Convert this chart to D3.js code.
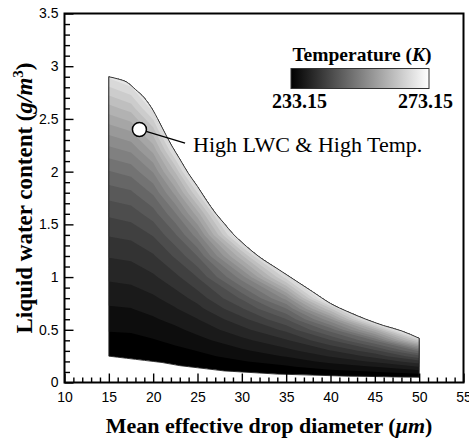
<!DOCTYPE html>
<html>
<head>
<meta charset="utf-8">
<script src="https://cdn.jsdelivr.net/npm/d3@7"></script>
<style>
  body { margin: 0; background: #fff; }
  svg { display: block; }
</style>
</head>
<body>
<svg id="chart" width="469" height="439"></svg>
<script>
const medCols = [15, 17.5, 20, 22.5, 25, 30, 35, 40, 45, 50];
const lwcRows = [0, 0.05, 0.1, 0.15, 0.2, 0.25, 0.3, 0.4, 0.5, 0.6, 0.7, 0.8,
                 1.0, 1.2, 1.4, 1.6, 1.8, 2.0, 2.2, 2.4, 2.6, 2.8, 3.0];

// temperature (K) down each MED column, one value per lwcRows entry
const temp15   = [233, 233, 233, 233, 233, 233.2, 233.6, 234.5, 235.3, 236.1, 236.9, 237.8, 239.5, 241.3, 243.3, 245.5, 248.1, 251.0, 254.4, 258.1, 262.3, 267.0, 272.0];
const temp17_5 = [233, 233, 233, 233, 233, 233.3, 233.7, 234.6, 235.4, 236.3, 237.1, 238.0, 239.8, 241.6, 243.7, 246.1, 248.8, 251.9, 255.5, 259.5, 264.0, 269.0, 274.0];
const temp20   = [233, 233, 233, 233, 233.2, 233.7, 234.1, 235.0, 236.0, 236.9, 237.8, 238.8, 240.8, 242.9, 245.3, 248.2, 251.5, 255.3, 259.7, 264.6, 270.0, 275.5, 279.0];
const temp22_5 = [233, 233, 233, 233, 233.5, 234.0, 234.6, 235.7, 236.7, 237.8, 239.0, 240.1, 242.6, 245.5, 248.9, 252.9, 257.8, 263.4, 269.8, 276.0, 280, 280, 280];
const temp25   = [233, 233, 233, 233.3, 234.0, 234.6, 235.2, 236.5, 237.8, 239.1, 240.5, 241.9, 245.2, 249.2, 254.2, 260.2, 267.2, 274.8, 280, 280, 280, 280, 280];
const temp30   = [233, 233, 233.2, 234.1, 235.0, 235.9, 236.8, 238.6, 240.5, 242.5, 244.9, 247.5, 254.2, 262.7, 273.2, 280, 280, 280, 280, 280, 280, 280, 280];
const temp35   = [233, 233, 233.8, 234.9, 236.1, 237.3, 238.5, 240.9, 243.7, 247.1, 251.0, 255.9, 268.1, 279.6, 280, 280, 280, 280, 280, 280, 280, 280, 280];
const temp40   = [233, 233, 234.5, 236.1, 237.7, 239.3, 241.0, 245.0, 250.1, 256.7, 264.8, 274.2, 280, 280, 280, 280, 280, 280, 280, 280, 280, 280, 280];
const temp45   = [233, 233, 235.1, 237.2, 239.5, 241.8, 244.5, 251.4, 261.0, 273.3, 280, 280, 280, 280, 280, 280, 280, 280, 280, 280, 280, 280, 280];
const temp50   = [233, 233.2, 236.2, 239.2, 242.4, 246.6, 251.6, 266.0, 280, 280, 280, 280, 280, 280, 280, 280, 280, 280, 280, 280, 280, 280, 280];

// envelope of the computed cases
const regionMed = [15, 16, 17, 18, 19, 20, 21, 22, 23, 24, 25, 26, 27, 28, 29, 30, 32, 34, 36, 38, 40, 42, 44, 46, 48, 50];
const topLwc = [2.90, 2.88, 2.85, 2.78, 2.70, 2.58, 2.42, 2.26, 2.12, 1.98, 1.86, 1.73, 1.61, 1.51, 1.41, 1.33, 1.19, 1.08, 0.97, 0.86, 0.75, 0.67, 0.60, 0.54, 0.49, 0.42];
const botLwc = [0.25, 0.24, 0.23, 0.22, 0.21, 0.20, 0.19, 0.175, 0.16, 0.15, 0.14, 0.13, 0.12, 0.11, 0.105, 0.10, 0.09, 0.08, 0.075, 0.07, 0.065, 0.06, 0.058, 0.055, 0.052, 0.05];

const xTicks = [10, 15, 20, 25, 30, 35, 40, 45, 50, 55];
const yTicks = [0, 0.5, 1, 1.5, 2, 2.5, 3, 3.5];
const tempRange = [233.15, 273.15];
const tempStep = 2;

const note = { med: 18.45, lwc: 2.40, endMed: 23.6, endLwc: 2.27, text: "High LWC & High Temp." };

const svg = d3.select("#chart");
const serif = "'Liberation Serif', 'Times New Roman', serif";
const sans = "'Liberation Sans', Arial, sans-serif";

const x = d3.scaleLinear().domain([10, 55]).range([64.5, 463.5]);
const y = d3.scaleLinear().domain([0, 3.5]).range([382.5, 13.5]);

const shade = d3.scaleLinear().domain(tempRange).range(["#000000", "#ffffff"]).clamp(true);

// ---- contour bands ----
const cols = [temp15, temp17_5, temp20, temp22_5, temp25, temp30, temp35, temp40, temp45, temp50];
const nx = medCols.length, ny = lwcRows.length;
const grid = new Array(nx * ny);
for (let j = 0; j < ny; j++) {
    for (let i = 0; i < nx; i++) grid[j * nx + i] = cols[i][j];
}

const levels = d3.range(tempRange[0] + tempStep, tempRange[1] + 0.01, tempStep);
const bands = d3.contours().size([nx, ny]).thresholds(levels)(grid);

const gx = d3.scaleLinear().domain(d3.range(nx)).range(medCols);
const gy = d3.scaleLinear().domain(d3.range(ny)).range(lwcRows);
const toPx = d3.geoTransform({
    point(px, py) {
        this.stream.point(x(gx(px - 0.5)), y(gy(py - 0.5)));
    }
});
const bandPath = d3.geoPath(toPx);

const envelope = d3.area()
    .x((d, i) => x(regionMed[i]))
    .y0((d, i) => y(botLwc[i]))
    .y1((d, i) => y(topLwc[i]))
    .curve(d3.curveMonotoneX);

const defs = svg.append("defs");
defs.append("clipPath").attr("id", "region-clip")
    .append("path").attr("d", envelope(regionMed));

const field = svg.append("g").attr("clip-path", "url(#region-clip)");
field.append("path").attr("d", envelope(regionMed)).attr("fill", shade(tempRange[0]));
field.selectAll("path.band")
    .data(bands)
    .join("path")
    .attr("class", "band")
    .attr("d", bandPath)
    .attr("fill", d => shade(d.value));

svg.append("path")
    .attr("d", envelope(regionMed))
    .attr("fill", "none")
    .attr("stroke", "#222")
    .attr("stroke-width", 0.9);

// ---- axes ----
const xMinor = d3.range(10, 55.01, 1).filter(v => !xTicks.includes(v));
const yMinor = d3.range(0, 3.501, 0.1).map(v => +v.toFixed(1)).filter(v => !yTicks.includes(v));

const gxAxis = svg.append("g").attr("transform", `translate(0,${y(0)})`);
gxAxis.call(d3.axisBottom(x).tickValues(xTicks).tickSize(-9).tickPadding(10).tickFormat(d => d));
gxAxis.append("g").call(d3.axisBottom(x).tickValues(xMinor).tickSize(-5).tickFormat(""));

const gyAxis = svg.append("g").attr("transform", `translate(${x(10)},0)`);
gyAxis.call(d3.axisLeft(y).tickValues(yTicks).tickSize(-9).tickPadding(6).tickFormat(d => d));
gyAxis.append("g").call(d3.axisLeft(y).tickValues(yMinor).tickSize(-5.5).tickFormat(""));

svg.selectAll(".domain").remove();
svg.selectAll(".tick line").attr("stroke", "#000").attr("stroke-width", 1.4);
svg.selectAll(".tick text").attr("font-family", sans).attr("font-size", 14).attr("fill", "#000");

svg.append("rect")
    .attr("x", x(10)).attr("y", y(3.5))
    .attr("width", x(55) - x(10)).attr("height", y(0) - y(3.5))
    .attr("fill", "none").attr("stroke", "#000").attr("stroke-width", 2);

// axis titles
const xTitle = svg.append("text")
    .attr("x", 269).attr("y", 433)
    .attr("text-anchor", "middle")
    .attr("font-family", serif).attr("font-size", 22).attr("font-weight", "bold");
xTitle.append("tspan").text("Mean effective drop diameter (");
xTitle.append("tspan").attr("font-style", "italic").text("\u03bcm");
xTitle.append("tspan").text(")");

const yTitle = svg.append("text")
    .attr("transform", "translate(32,198) rotate(-90)")
    .attr("text-anchor", "middle")
    .attr("font-family", serif).attr("font-size", 23).attr("font-weight", "bold");
yTitle.append("tspan").text("Liquid water content (");
yTitle.append("tspan").attr("font-style", "italic").text("g/m");
yTitle.append("tspan").attr("font-size", 15).attr("dy", -9).text("3");
yTitle.append("tspan").attr("dy", 9).text(")");

// ---- legend ----
const grad = defs.append("linearGradient").attr("id", "temp-grad");
grad.selectAll("stop")
    .data([0, 0.25, 0.5, 0.75, 1])
    .join("stop")
    .attr("offset", d => d)
    .attr("stop-color", d => shade(tempRange[0] + d * (tempRange[1] - tempRange[0])));

const legend = svg.append("g");
const legTitle = legend.append("text")
    .attr("x", 362).attr("y", 61)
    .attr("text-anchor", "middle")
    .attr("font-family", serif).attr("font-size", 19.5).attr("font-weight", "bold");
legTitle.append("tspan").text("Temperature (");
legTitle.append("tspan").attr("font-style", "italic").text("K");
legTitle.append("tspan").text(")");

legend.append("rect")
    .attr("x", 291).attr("y", 68.5).attr("width", 138).attr("height", 20)
    .attr("fill", "url(#temp-grad)")
    .attr("stroke", "#333").attr("stroke-width", 1);

legend.append("text")
    .attr("x", 272).attr("y", 108)
    .attr("font-family", serif).attr("font-size", 20).attr("font-weight", "bold")
    .text(tempRange[0].toFixed(2));
legend.append("text")
    .attr("x", 453).attr("y", 108)
    .attr("text-anchor", "end")
    .attr("font-family", serif).attr("font-size", 20).attr("font-weight", "bold")
    .text(tempRange[1].toFixed(2));

// ---- annotation ----
const cx = x(note.med), cy = y(note.lwc), r = 7;
const ex = x(note.endMed), ey = y(note.endLwc);
const ang = Math.atan2(ey - cy, ex - cx);
svg.append("line")
    .attr("x1", cx + r * Math.cos(ang)).attr("y1", cy + r * Math.sin(ang))
    .attr("x2", ex).attr("y2", ey)
    .attr("stroke", "#000").attr("stroke-width", 1.3);
svg.append("circle")
    .attr("cx", cx).attr("cy", cy).attr("r", r)
    .attr("fill", "#fff").attr("stroke", "#000").attr("stroke-width", 1.5);
svg.append("text")
    .attr("x", ex + 8).attr("y", ey + 8.5)
    .attr("font-family", serif).attr("font-size", 22)
    .text(note.text);
</script>
</body>
</html>
